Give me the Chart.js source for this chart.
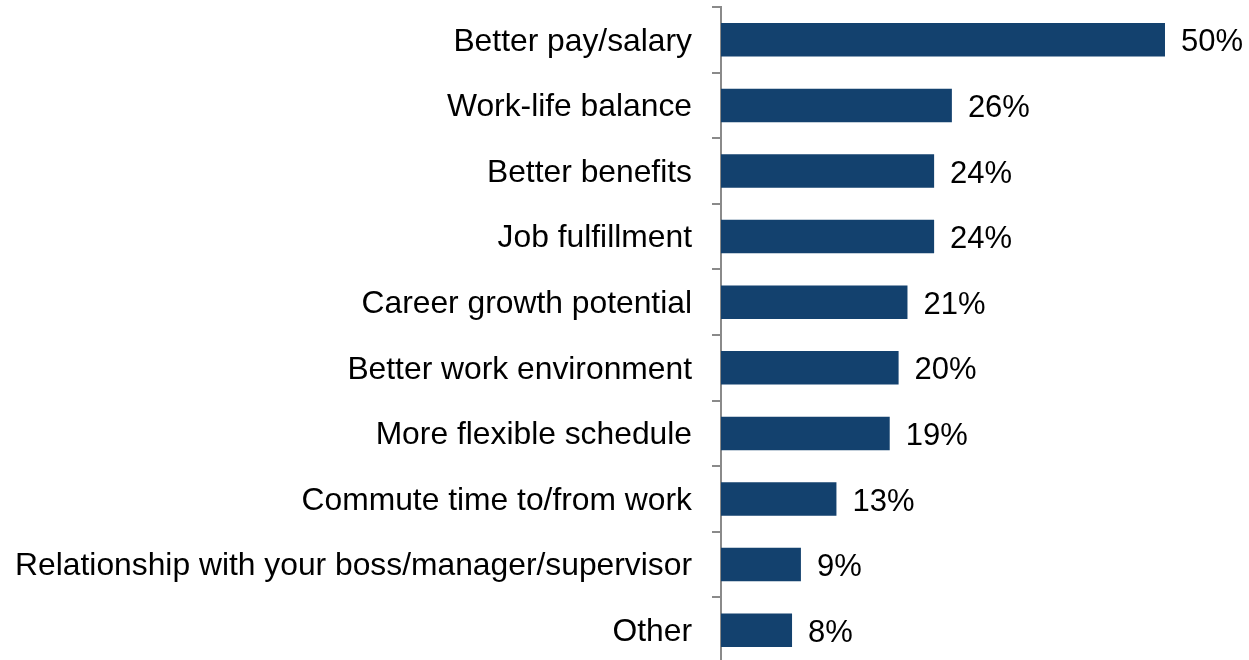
<!DOCTYPE html>
<html>
<head>
<meta charset="utf-8">
<script src="https://cdn.jsdelivr.net/npm/chart.js@4/dist/chart.umd.min.js"></script>
<style>
  html, body { margin: 0; padding: 0; background: #fff; overflow: hidden; }
  #wrap { width: 1249px; height: 660px; overflow: hidden; position: relative; }
  #c { display: block; }
</style>
</head>
<body>
<div id="wrap"><canvas id="c" width="1249" height="664"></canvas></div>
<script>
const categories = [
  "Better pay/salary",
  "Work-life balance",
  "Better benefits",
  "Job fulfillment",
  "Career growth potential",
  "Better work environment",
  "More flexible schedule",
  "Commute time to/from work",
  "Relationship with your boss/manager/supervisor",
  "Other"
];
const values = [50, 26, 24, 24, 21, 20, 19, 13, 9, 8];
const valueLabels = ["50%", "26%", "24%", "24%", "21%", "20%", "19%", "13%", "9%", "8%"];

const FONT = "'Liberation Sans', Arial, sans-serif";

const valueLabelPlugin = {
  id: 'valueLabels',
  afterDatasetsDraw(chart) {
    const ctx = chart.ctx;
    const meta = chart.getDatasetMeta(0);
    ctx.save();
    ctx.font = "31px " + FONT;
    ctx.fillStyle = "#000";
    ctx.textAlign = "left";
    ctx.textBaseline = "middle";
    meta.data.forEach((bar, i) => {
      ctx.fillText(valueLabels[i], bar.x + 16, bar.y + 3);
    });
    ctx.restore();
  }
};

new Chart(document.getElementById('c'), {
  type: 'bar',
  data: {
    labels: categories,
    datasets: [{
      data: values,
      backgroundColor: '#13416E',
      borderWidth: 0,
      barPercentage: 0.51,
      categoryPercentage: 1.0
    }]
  },
  options: {
    indexAxis: 'y',
    responsive: false,
    animation: false,
    devicePixelRatio: 1,
    layout: { padding: { top: 7, bottom: 1, left: 0, right: 0 } },
    plugins: {
      legend: { display: false },
      tooltip: { enabled: false },
      title: { display: false }
    },
    scales: {
      x: {
        display: false,
        min: 0,
        max: 59.46
      },
      y: {
        offset: true,
        afterFit(scale) {
          scale.width = 721;
          scale.paddingTop = 0;
          scale.paddingBottom = 0;
        },
        border: { display: true, color: '#8a8a8a', width: 2 },
        grid: {
          display: true,
          offset: true,
          drawOnChartArea: false,
          drawTicks: true,
          tickLength: 9,
          color: '#8a8a8a',
          lineWidth: 2
        },
        ticks: {
          color: '#000',
          padding: 20,
          labelOffset: 2,
          font: { family: FONT, size: 31.8 }
        }
      }
    }
  },
  plugins: [valueLabelPlugin]
});
</script>
</body>
</html>
